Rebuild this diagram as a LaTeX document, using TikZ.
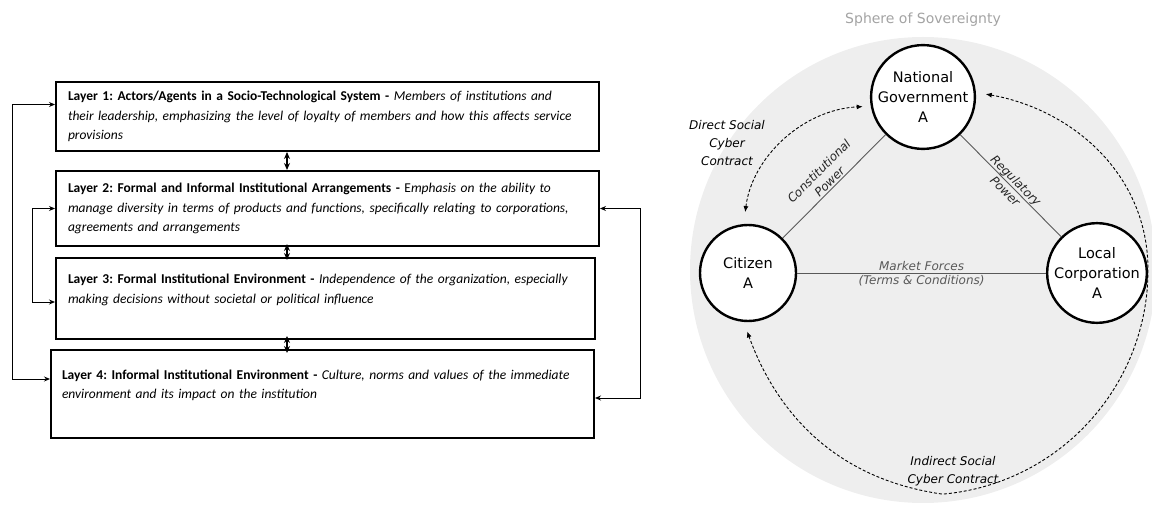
\documentclass[tikz,border=0pt]{standalone}
\usepackage{fontspec}
\setmainfont{Carlito}
\newfontfamily\sovfont{DejaVu Sans}
\usetikzlibrary{arrows.meta}
\definecolor{spheregrey}{HTML}{EEEEEE}
\definecolor{powergrey}{HTML}{595959}
\definecolor{titlegrey}{HTML}{A3A3A3}
\frenchspacing

\tikzset{
  layerbox/.style={draw, line width=2pt, anchor=north west, align=left, inner xsep=11pt, inner ysep=0pt, minimum width=543pt, text width=519pt, font=\fontsize{13.5}{19.5}\selectfont},
  stacklink/.style={{Stealth[length=7pt,width=6pt]}-{Stealth[length=7pt,width=6pt]}, line width=1.5pt},
  feedback/.style={{Stealth[length=6pt,width=5pt]}-{Stealth[length=6pt,width=5pt]}, line width=0.9pt},
  actor/.style={circle, draw, line width=2.4pt, fill=white, minimum size=96pt, inner sep=0pt, align=center, font=\sovfont\fontsize{14.5}{20}\selectfont},
  power/.style={draw=powergrey, line width=0.9pt},
  powerlabel/.style={font=\sovfont\itshape\fontsize{12}{15}\selectfont, text=black!85, align=center, inner sep=1.5pt},
  contract/.style={dashed, dash pattern=on 3pt off 2pt, line width=0.9pt, {Latex[length=6pt,width=5pt]}-{Latex[length=6pt,width=5pt]}},
  contractlabel/.style={font=\sovfont\itshape\fontsize{12}{18}\selectfont, align=center, inner sep=0pt}
}

\begin{document}
\begin{tikzpicture}[x=1pt, y=1pt]
\useasboundingbox (0,0) rectangle (1152,504);

% the four layers
\node[layerbox, minimum height=69pt] (L1) at (55,423) {\textbf{Layer 1: Actors/Agents in a Socio-Technological System -} \textit{Members of institutions and}\\
  \textit{their leadership, emphasizing the level of loyalty of members and how this affects service}\\
  \textit{provisions}};
\node[layerbox, minimum height=75pt] (L2) at (55,334) {\textbf{Layer 2: Formal and Informal Institutional Arrangements -} E\textit{mphasis on the ability to}\\
  \textit{manage diversity in terms of products and functions, specifically relating to corporations,}\\
  \textit{agreements and arrangements}};
\node[layerbox, minimum width=539pt, text width=515pt, minimum height=81pt] (L3) at (55,247) {\textbf{Layer 3: Formal Institutional Environment -} \textit{Independence of the organization, especially}\\
  \textit{making decisions without societal or political influence}\\ \mbox{}};
\node[layerbox, inner xsep=10pt, text width=521pt, minimum height=88pt] (L4) at (50,155) {\textbf{Layer 4: Informal Institutional Environment -} \textit{Culture, norms and values of the immediate}\\
  \textit{environment and its impact on the institution}\\ \mbox{}};

% links between layers
\coordinate (spine) at (287,0);
\draw[stacklink] (L1.south -| spine) -- (L2.north -| spine);
\draw[stacklink, shorten <=-3pt, shorten >=-3pt] (L2.south -| spine) -- (L3.north -| spine);
\draw[stacklink, shorten <=-4pt, shorten >=-4pt] (L3.south -| spine) -- (L4.north -| spine);

\draw[feedback] ([yshift=12pt]L1.west) -- ++(-43,0) |- ([yshift=15pt]L4.west);
\draw[feedback] (L2.west) -- ++(-23,0) |- ([yshift=-3.5pt]L3.west);
\draw[feedback] (L2.east) -- ++(40,0) |- ([yshift=-4pt]L4.east);

% sphere of sovereignty
\node[circle, fill=spheregrey, minimum size=466pt, inner sep=0pt] (sphere) at (923,234) {};
\node[font=\sovfont\fontsize{14}{16}\selectfont, text=titlegrey] (spheretitle) at (923,484) {Sphere of Sovereignty};

\node[actor] (gov) at (923,407) {National\\Government\\A};
\node[actor] (cit) at (748,231) {Citizen\\A};
\node[actor] (corp) at (1097,231) {Local\\Corporation\\A};

\draw[power] (cit) -- node[powerlabel, sloped, above] {Constitutional\\Power} (gov);
\draw[power] (gov) -- node[powerlabel, sloped] {Regulatory\\Power} (corp);
\draw[power] (cit) -- node[powerlabel, above, text=powergrey] {Market Forces} node[powerlabel, below, text=powergrey] {(Terms \& Conditions)} (corp);

% social cyber contracts
\draw[contract, shorten <=12pt, shorten >=8pt] (cit.95) to[bend left=40] (gov.190);
\node[contractlabel] (directlbl) at (727,361) {Direct Social\\Cyber\\Contract};

\coordinate (iright) at (1148,234);
\draw[contract, shorten <=10pt, shorten >=10pt] (gov.5) to[out=-10, in=90] (iright)
  arc[start angle=0, end angle=-85, radius=225pt] to[out=172, in=-70] (cit.265);
\node[contractlabel] (indirectlbl) at (953,33) {Indirect Social\\Cyber Contract};
\end{tikzpicture}
\end{document}
